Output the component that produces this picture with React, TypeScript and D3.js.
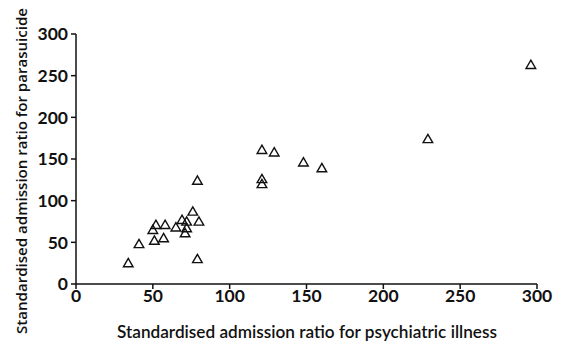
import React from "react";
import * as d3 from "d3";

const psychiatricIllness = [296, 229, 79, 121, 129, 148, 160, 121, 121, 34, 41, 50, 52, 58, 51, 57, 65, 69, 72, 72, 71, 76, 80, 79];
const parasuicide = [262, 173, 123, 160, 157, 145, 138, 125, 119, 24, 47, 64, 70, 70, 51, 54, 67, 76, 74, 66, 60, 86, 74, 29];
const xTicks = [0, 50, 100, 150, 200, 250, 300];
const yTicks = [0, 50, 100, 150, 200, 250, 300];
const xTitle = "Standardised admission ratio for psychiatric illness";
const yTitle = "Standardised admission ratio for parasuicide";

export default function App() {
  const W = 569, H = 352;
  const x = d3.scaleLinear().domain([0, 300]).range([76, 537]);
  const y = d3.scaleLinear().domain([0, 300]).range([284, 34]);
  const tri = d3.symbol().type(d3.symbolTriangle).size(40)() as string;
  const font = "Lato, 'Open Sans', sans-serif";
  return (
    <svg width={W} height={H} style={{ position: "absolute", left: 0, top: 0, background: "#fff" }}>
      <g stroke="#111" strokeWidth={1.5} fill="none">
        <line x1={x(0)} x2={x(300)} y1={y(0)} y2={y(0)} />
        <line x1={x(0)} x2={x(0)} y1={y(0)} y2={y(300)} />
        {xTicks.map((t) => (
          <line key={"xt" + t} x1={x(t)} x2={x(t)} y1={y(0)} y2={y(0) + 5} />
        ))}
        {yTicks.map((t) => (
          <line key={"yt" + t} x1={x(0) - 5} x2={x(0)} y1={y(t)} y2={y(t)} />
        ))}
      </g>
      <g fontFamily={font} fontSize={17.5} fontWeight={700} fill="#111">
        {xTicks.map((t) => (
          <text key={"xl" + t} x={x(t)} y={302} textAnchor="middle">{t}</text>
        ))}
        {yTicks.map((t) => (
          <text key={"yl" + t} x={68} y={y(t)} dy="0.36em" textAnchor="end">{t}</text>
        ))}
      </g>
      <text x={307} y={338} textAnchor="middle" fontFamily={font} fontSize={17} fontWeight={600} fill="#111" textLength={380} lengthAdjust="spacingAndGlyphs">{xTitle}</text>
      <text transform={`translate(27,171) rotate(-90)`} textAnchor="middle" fontFamily="'Open Sans', sans-serif" fontSize={15} fontWeight={600} fill="#111" textLength={326} lengthAdjust="spacingAndGlyphs">{yTitle}</text>
      <g fill="none" stroke="#111" strokeWidth={1.4}>
        {psychiatricIllness.map((v, i) => (
          <path key={i} d={tri} transform={`translate(${x(v)},${y(parasuicide[i])})`} />
        ))}
      </g>
    </svg>
  );
}
